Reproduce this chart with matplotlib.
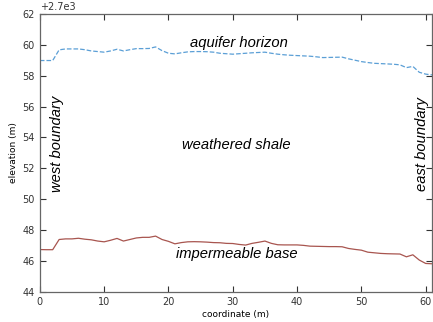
import matplotlib
matplotlib.use('Agg')
import matplotlib.pyplot as plt

# coordinate along the section (m)
coord = list(range(0, 62))

# aquifer horizon elevation (m)
aquifer = [2758.98, 2758.98, 2758.98, 2759.67, 2759.73, 2759.73, 2759.73, 2759.68, 2759.60, 2759.56,
           2759.52, 2759.60, 2759.71, 2759.60, 2759.68, 2759.75, 2759.75, 2759.76, 2759.86, 2759.62,
           2759.45, 2759.41, 2759.48, 2759.54, 2759.56, 2759.56, 2759.55, 2759.52, 2759.45, 2759.42,
           2759.39, 2759.42, 2759.45, 2759.48, 2759.50, 2759.52, 2759.45, 2759.39, 2759.35, 2759.32,
           2759.30, 2759.28, 2759.26, 2759.22, 2759.17, 2759.18, 2759.19, 2759.20, 2759.09, 2759.00,
           2758.91, 2758.85, 2758.80, 2758.78, 2758.76, 2758.74, 2758.70, 2758.52, 2758.60, 2758.22,
           2758.10, 2758.05]

# impermeable base elevation (m)
base = [2746.75, 2746.74, 2746.74, 2747.40, 2747.44, 2747.44, 2747.48, 2747.42, 2747.38, 2747.30,
        2747.25, 2747.35, 2747.47, 2747.30, 2747.40, 2747.50, 2747.54, 2747.54, 2747.62, 2747.40,
        2747.28, 2747.12, 2747.20, 2747.25, 2747.26, 2747.25, 2747.23, 2747.20, 2747.19, 2747.15,
        2747.14, 2747.08, 2747.04, 2747.15, 2747.22, 2747.30, 2747.15, 2747.06, 2747.05, 2747.05,
        2747.05, 2747.02, 2746.97, 2746.96, 2746.95, 2746.94, 2746.94, 2746.93, 2746.82, 2746.76,
        2746.71, 2746.58, 2746.54, 2746.50, 2746.48, 2746.47, 2746.46, 2746.28, 2746.41, 2746.07,
        2745.85, 2745.83]

fig = plt.figure(figsize=(4.33, 3.22), dpi=100)
ax = fig.add_axes([0.092, 0.093, 0.906, 0.864])

ax.plot(coord, aquifer, color='#5b9fd6', linestyle='--', linewidth=0.9)
ax.plot(coord, base, color='#a8554f', linewidth=0.9)

ax.set_xlim(0, 61)
ax.set_ylim(2744, 2762)
ax.set_xticks(range(0, 61, 10))
ax.set_yticks(range(2744, 2763, 2))
ax.yaxis.get_major_formatter().set_useOffset(2700)
ax.yaxis.get_offset_text().set_fontsize(7)

ax.tick_params(direction='in', top=True, right=True, labelsize=7, length=4, colors='#333333')
for s in ax.spines.values():
    s.set_color('#666666')
    s.set_linewidth(0.9)

ax.set_xlabel('coordinate (m)', fontsize=6.5, labelpad=2)
ax.set_ylabel('elevation (m)', fontsize=6.5, labelpad=3)

tf = dict(fontsize=10.6, style='italic', family='Liberation Sans', ha='center', va='center')
ax.text(31, 2760.1, 'aquifer horizon', **tf)
ax.text(30.5, 2753.5, 'weathered shale', **tf)
ax.text(30.7, 2746.45, 'impermeable base', **tf)
ax.text(2.6, 2753.6, 'west boundary', rotation=90, **tf)
ax.text(59.4, 2753.6, 'east boundary', rotation=90, **tf)

fig.savefig('out.png', dpi=100)
